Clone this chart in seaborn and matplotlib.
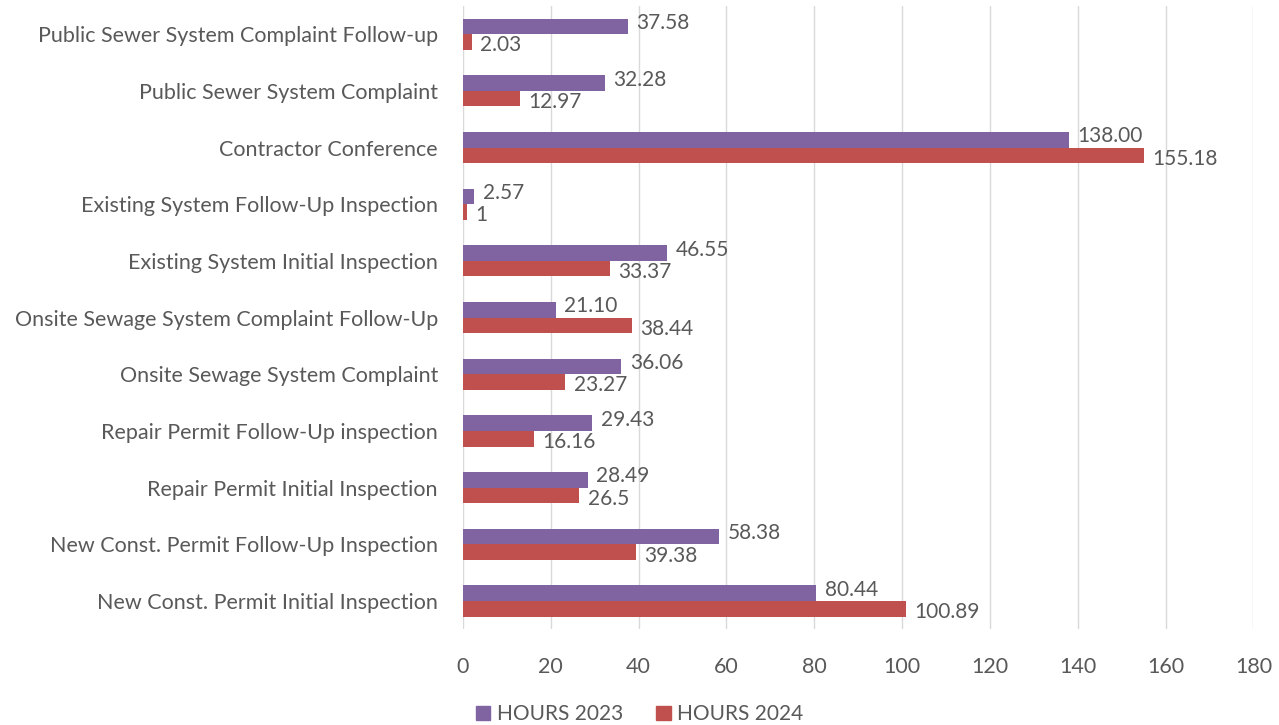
import pandas as pd
import matplotlib.pyplot as plt
import seaborn as sns

# Data (top to bottom as shown)
categories = [
    "Public Sewer System Complaint Follow-up",
    "Public Sewer System Complaint",
    "Contractor Conference",
    "Existing System Follow-Up Inspection",
    "Existing System Initial Inspection",
    "Onsite Sewage System Complaint Follow-Up",
    "Onsite Sewage System Complaint",
    "Repair Permit Follow-Up inspection",
    "Repair Permit Initial Inspection",
    "New Const. Permit Follow-Up Inspection",
    "New Const. Permit Initial Inspection",
]
hours_2023 = [37.58, 32.28, 138.00, 2.57, 46.55, 21.10, 36.06, 29.43, 28.49, 58.38, 80.44]
hours_2024 = [2.03, 12.97, 155.18, 1, 33.37, 38.44, 23.27, 16.16, 26.5, 39.38, 100.89]
series = ["HOURS 2023", "HOURS 2024"]
colors = ["#8064A2", "#C0504D"]

df = pd.DataFrame({"Category": categories, series[0]: hours_2023, series[1]: hours_2024})
df_long = df.melt(id_vars="Category", var_name="Series", value_name="Hours")

sns.set_style("white")
plt.rcParams["font.family"] = ["Lato", "DejaVu Sans"]
text_color = "#595959"

fig = plt.figure(figsize=(12.79, 7.25), dpi=100)
ax = fig.add_axes([0.362, 0.132, 0.618, 0.86])

sns.barplot(data=df_long, y="Category", x="Hours", hue="Series", order=categories,
            hue_order=series, palette=colors, orient="h", width=0.55, gap=0,
            saturation=1, linewidth=0, ax=ax, legend=False, zorder=3)

# Data labels (nudged apart a little so neighbours don't collide)
for container, fmt, dy in zip(ax.containers, ["{:.2f}", "{:g}"], [2.5, -2.5]):
    labels = [fmt.format(v) for v in container.datavalues]
    for t in ax.bar_label(container, labels=labels, padding=6, fontsize=15, color=text_color):
        x0, _ = t.xyann
        t.xyann = (x0, dy)

ax.set_xlim(0, 180)
ax.set_xticks(range(0, 181, 20))
ax.set_ylim(len(categories) - 0.5, -0.5)
ax.grid(axis="x", color="#D9D9D9", linewidth=1, zorder=0)
for s in ax.spines.values():
    s.set_visible(False)
ax.tick_params(axis="x", length=6, color="#D9D9D9", pad=14, labelsize=15.5, labelcolor=text_color)
ax.tick_params(axis="y", length=0, pad=18, labelsize=15.5, labelcolor=text_color)
ax.set_xlabel("")
ax.set_ylabel("")

handles = [plt.Rectangle((0, 0), 1, 1, color=c) for c in colors]
fig.legend(handles, series, loc="lower center", bbox_to_anchor=(0.5, -0.025), ncol=2,
           frameon=False, fontsize=15, labelcolor=text_color, handlelength=0.7,
           handleheight=0.7, handletextpad=0.3, columnspacing=1.6)

plt.savefig("out.png", dpi=100)
